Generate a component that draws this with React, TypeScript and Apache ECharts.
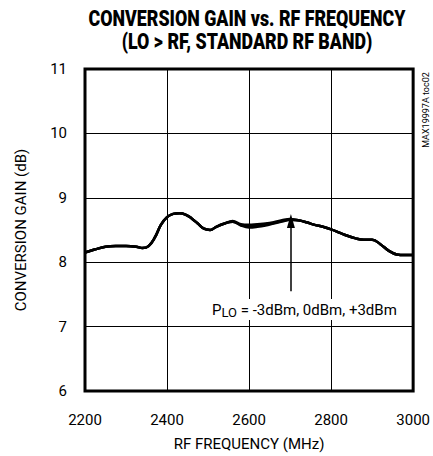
import React, { useEffect, useRef } from "react";
import * as echarts from "echarts";

const freqMHz = [2200, 2225, 2250, 2275, 2300, 2325, 2340, 2355, 2370, 2385, 2400, 2415, 2430, 2445, 2460, 2475, 2490, 2505, 2520, 2540, 2560, 2580, 2600, 2620, 2640, 2660, 2680, 2700, 2720, 2740, 2760, 2780, 2800, 2820, 2840, 2860, 2880, 2900, 2920, 2940, 2960, 2980, 3000];
const gainM3 = [8.15, 8.2, 8.24, 8.25, 8.25, 8.24, 8.22, 8.25, 8.38, 8.58, 8.7, 8.75, 8.76, 8.74, 8.68, 8.6, 8.52, 8.5, 8.55, 8.6, 8.63, 8.57, 8.54, 8.55, 8.57, 8.6, 8.63, 8.66, 8.65, 8.62, 8.58, 8.55, 8.51, 8.46, 8.41, 8.37, 8.35, 8.35, 8.28, 8.18, 8.12, 8.11, 8.11];
const gain0 = [8.15, 8.2, 8.24, 8.25, 8.25, 8.24, 8.22, 8.25, 8.38, 8.58, 8.7, 8.75, 8.76, 8.74, 8.68, 8.6, 8.52, 8.5, 8.55, 8.6, 8.63, 8.58, 8.56, 8.57, 8.59, 8.61, 8.64, 8.66, 8.65, 8.62, 8.58, 8.55, 8.51, 8.46, 8.41, 8.37, 8.35, 8.35, 8.28, 8.18, 8.12, 8.11, 8.11];
const gainP3 = [8.15, 8.2, 8.24, 8.25, 8.25, 8.24, 8.22, 8.25, 8.38, 8.58, 8.7, 8.75, 8.76, 8.74, 8.68, 8.6, 8.52, 8.5, 8.55, 8.6, 8.64, 8.59, 8.58, 8.59, 8.6, 8.62, 8.65, 8.67, 8.65, 8.62, 8.58, 8.55, 8.51, 8.46, 8.41, 8.37, 8.35, 8.35, 8.28, 8.18, 8.12, 8.11, 8.11];
const xTicks = { min: 2200, max: 3000, interval: 200 };
const yTicks = { min: 6, max: 11, interval: 1 };
const arrowFreq = 2702;
const arrowFrom = 7.55;
const arrowTo = 8.64;

const FONT = "Roboto, 'Liberation Sans', sans-serif";

export default function App() {
  const ref = useRef<HTMLDivElement>(null);
  useEffect(() => {
    document.body.style.margin = "0";
    const chart = echarts.init(ref.current!, null, { renderer: "svg" });
    const mk = (data: number[], extra: any = {}) => ({
      type: "line",
      data: freqMHz.map((f, i) => [f, data[i]]),
      smooth: 0.4,
      showSymbol: false,
      lineStyle: { color: "#000", width: 2.5 },
      ...extra,
    });
    const titleStyle = { fontFamily: FONT, fontWeight: 900, fontSize: 22, fill: "#000", align: "center", verticalAlign: "middle" };
    chart.setOption({
      animation: false,
      backgroundColor: "#fff",
      grid: { left: 85, top: 69, width: 330, height: 328, show: true, borderColor: "#000", borderWidth: 3, backgroundColor: "transparent" },
      xAxis: {
        type: "value",
        ...xTicks,
        name: "RF FREQUENCY (MHz)",
        nameLocation: "middle",
        nameGap: 45,
        nameTextStyle: { fontFamily: FONT, fontSize: 15, color: "#000" },
        axisLine: { show: false },
        axisTick: { show: false },
        axisLabel: { fontFamily: FONT, fontSize: 15, color: "#000", margin: 21, formatter: (v: number) => String(v) },
        splitLine: { lineStyle: { color: "#000", width: 1 } },
      },
      yAxis: {
        type: "value",
        ...yTicks,
        name: "CONVERSION GAIN (dB)",
        nameLocation: "middle",
        nameGap: 57,
        nameTextStyle: { fontFamily: FONT, fontSize: 15, color: "#000" },
        axisLine: { show: false },
        axisTick: { show: false },
        axisLabel: { fontFamily: FONT, fontSize: 15, color: "#000", margin: 18 },
        splitLine: { lineStyle: { color: "#000", width: 1 } },
      },
      series: [
        mk(gainM3),
        mk(gain0, {
          markLine: {
            silent: true,
            symbol: ["none", "triangle"],
            symbolSize: [8, 14],
            label: { show: false },
            lineStyle: { color: "#000", width: 1.5, type: "solid" },
            data: [[{ coord: [arrowFreq, arrowFrom] }, { coord: [arrowFreq, arrowTo] }]],
          },
        }),
        mk(gainP3),
      ],
      graphic: [
        {
          type: "text",
          x: 247,
          y: 18,
          scaleX: 0.81,
          style: { ...titleStyle, text: "CONVERSION GAIN vs. RF FREQUENCY" },
        },
        {
          type: "text",
          x: 247,
          y: 41,
          scaleX: 0.81,
          style: { ...titleStyle, text: "(LO > RF, STANDARD RF BAND)" },
        },
        {
          type: "text",
          left: 211,
          top: 299,
          z: 100,
          style: {
            text: "{p|P}{s|LO}{p| = -3dBm, 0dBm, +3dBm}",
            backgroundColor: "#fff",
            padding: [1, 2, 1, 1],
            rich: {
              p: { fontFamily: FONT, fontSize: 15, fill: "#000" },
              s: { fontFamily: FONT, fontSize: 13, fill: "#000", verticalAlign: "bottom", padding: [6, 0, 0, 0] },
            },
          },
        },
        {
          type: "text",
          x: 426,
          y: 110,
          rotation: Math.PI / 2,
          style: {
            text: "MAX19997A toc02",
            fontFamily: FONT,
            fontSize: 9,
            fill: "#000",
            align: "center",
            verticalAlign: "middle",
          },
        },
      ],
    });
    return () => chart.dispose();
  }, []);
  return <div ref={ref} style={{ width: 433, height: 456 }} />;
}
